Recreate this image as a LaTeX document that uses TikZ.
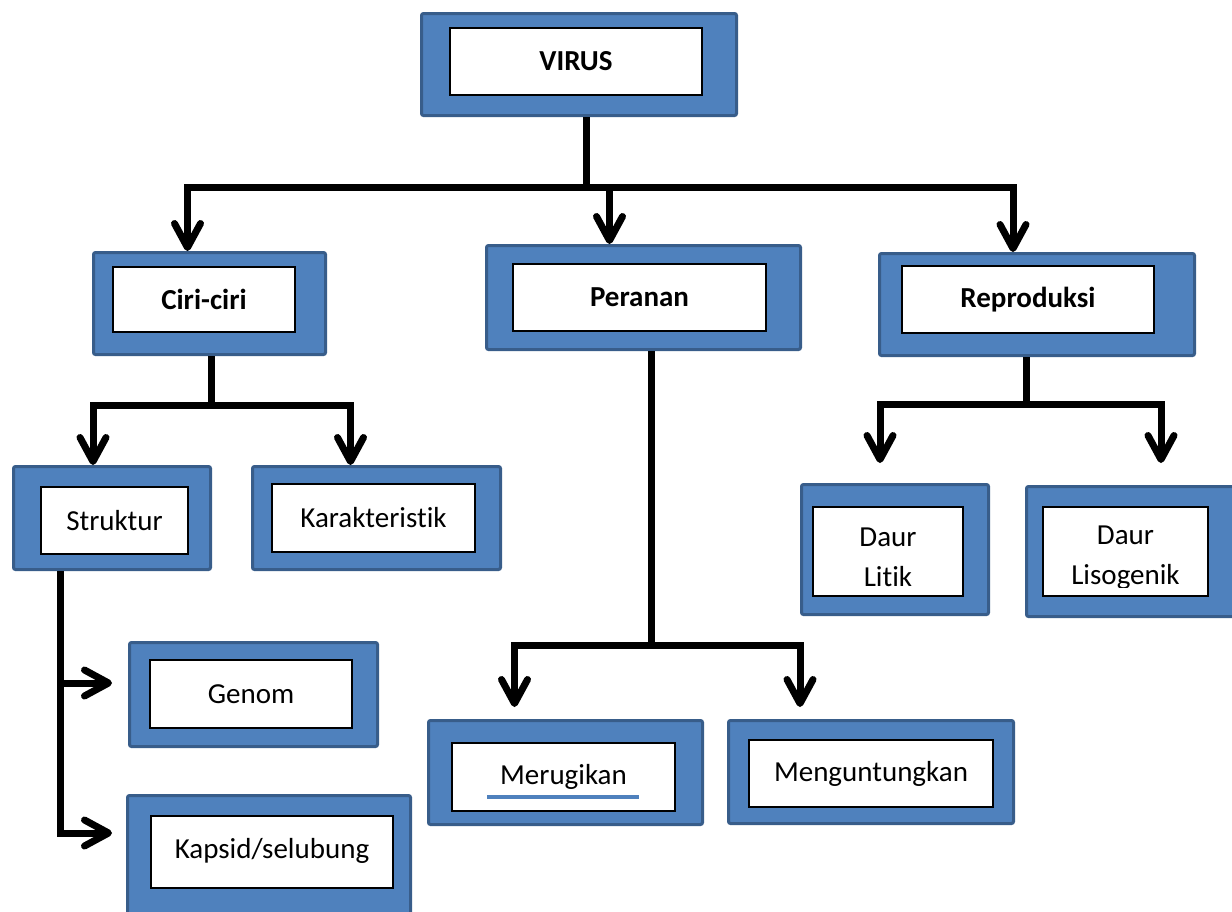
\documentclass[tikz,border=0pt]{standalone}
\usepackage{fontspec}
\setmainfont{Carlito}[Ligatures=NoCommon]
\usetikzlibrary{calc,arrows.meta}
\definecolor{biru}{HTML}{4F81BD}
\definecolor{birutua}{HTML}{385D8A}
\tikzset{
	luar/.style={draw=birutua, fill=biru, line width=3pt, rounded corners=2pt, inner sep=0pt},
	dalam/.style={draw=black, fill=white, line width=1.2pt, inner sep=0pt, align=center, font=\fontsize{29}{40}\selectfont},
	judul/.style={dalam, font=\fontsize{29}{40}\selectfont\bfseries},
	teks/.style={inner sep=0pt, align=center, font=\fontsize{29}{40}\selectfont},
	garis/.style={line width=7pt},
	panah/.style={line width=7pt, -{Straight Barb[length=24pt,width=26pt,round]}}
}

\begin{document}
\begin{tikzpicture}[x=1pt,y=-1pt]
	\useasboundingbox (0,0) rectangle (1232,911);
	% tingkat 1
	\node[luar, minimum width=315pt, minimum height=102pt] (virusL) at (579,64.5) {};
	\node[judul, minimum width=252pt, minimum height=67pt] (virus) at (576,61.5) {VIRUS};
	% tingkat 2
	\node[luar, minimum width=232pt, minimum height=102pt] (ciriL) at (209.5,303.5) {};
	\node[judul, minimum width=182pt, minimum height=65pt] (ciri) at (204,299.5) {Ciri-ciri};
	\node[luar, minimum width=314pt, minimum height=104pt] (peranL) at (643.5,297.5) {};
	\node[judul, minimum width=253pt, minimum height=67pt] (peran) at (639.5,297.5) {Peranan};
	\node[luar, minimum width=315pt, minimum height=102pt] (reproL) at (1037,304.5) {};
	\node[judul, minimum width=252pt, minimum height=67pt] (repro) at (1028,299.5) {Reproduksi};
	% tingkat 3
	\node[luar, minimum width=197pt, minimum height=103pt] (strukL) at (112,518) {};
	\node[dalam, minimum width=147pt, minimum height=67pt] (struk) at (114.5,520.5) {Struktur};
	\node[luar, minimum width=248pt, minimum height=103pt] (karakL) at (376.5,518) {};
	\node[dalam, minimum width=203pt, minimum height=68pt] (karak) at (373.5,518) {Karakteristik};
	\node[luar, minimum width=187pt, minimum height=130pt] (litikL) at (895,549.5) {};
	\node[dalam, minimum width=150pt, minimum height=89pt] (litik) at (888,551.5) {};
	\begin{scope}
		\clip (litik.north west) rectangle ($(litik.south east)+(0,-9)$);
		\node[teks] (litikteks) at (888,557.5) {Daur\\Litik};
	\end{scope}
	\node[luar, minimum width=222pt, minimum height=130pt] (lisoL) at (1137.5,551.5) {};
	\node[dalam, minimum width=165pt, minimum height=89pt] (liso) at (1125.5,551.5) {};
	\begin{scope}
		\clip (liso.north west) rectangle ($(liso.south east)+(0,-9)$);
		\node[teks] (lisoteks) at (1125.5,557.5) {Daur\\Lisogenik};
	\end{scope}
	% tingkat 4
	\node[luar, minimum width=248pt, minimum height=104pt] (genomL) at (253.5,694.5) {};
	\node[dalam, minimum width=202pt, minimum height=68pt] (genom) at (251,694) {Genom};
	\node[luar, minimum width=283pt, minimum height=138pt] (kapsidL) at (269,864.5) {};
	\node[dalam, minimum width=242pt, minimum height=72pt] (kapsid) at (272,852) {\raisebox{7pt}{Kapsid/selubung}};
	\node[luar, minimum width=274pt, minimum height=104pt] (merugiL) at (565.5,772.5) {};
	\node[dalam, minimum width=223pt, minimum height=68pt] (merugi) at (563.5,777) {\raisebox{4pt}{Merugikan}};
	\draw[biru, line width=4pt] ($(merugi.center)+(-76.5,20)$) -- ($(merugi.center)+(75.5,20)$);
	\node[luar, minimum width=285pt, minimum height=103pt] (untungL) at (871,772) {};
	\node[dalam, minimum width=244pt, minimum height=67pt] (untung) at (871,773.5) {Menguntungkan};

	% penghubung
	\coordinate (simpul1) at ($(virusL.south)+(7,70)$);
	\draw[garis] (virusL.south -| simpul1) -- (simpul1);
	\draw[panah] (simpul1) -| ($(ciriL.north)+(-22,0)$);
	\draw[panah] (simpul1) -| ($(peranL.north)+(-34,0)$);
	\draw[panah] (simpul1) -| ($(reproL.north)+(-24,0)$);

	\coordinate (simpul2) at ($(ciriL.south)+(1.5,49)$);
	\draw[garis] (ciriL.south -| simpul2) -- (simpul2);
	\draw[panah] (simpul2) -| ($(strukL.north)+(-19,0)$);
	\draw[panah] (simpul2) -| ($(karakL.north)+(-26,0)$);

	\coordinate (simpul3) at ($(peranL.south)+(7.5,294)$);
	\draw[garis] (peranL.south -| simpul3) -- (simpul3);
	\draw[panah] (simpul3) -| ($(merugiL.north)+(-51,-12)$);
	\draw[panah] (simpul3) -| ($(untungL.north)+(-71,-12)$);

	\coordinate (simpul4) at ($(reproL.south)+(-11,47)$);
	\draw[garis] (reproL.south -| simpul4) -- (simpul4);
	\draw[panah] (simpul4) -| ($(litikL.north)+(-15,-20)$);
	\draw[panah] (simpul4) -| ($(lisoL.north)+(23.5,-22)$);

	\draw[panah] ($(strukL.south)+(-52,0)$) |- ($(genomL.west)+(-16,-11.5)$);
	\draw[panah] ($(strukL.south)+(-52,0)$) |- ($(kapsidL.west)+(-14,-31.5)$);
\end{tikzpicture}
\end{document}
